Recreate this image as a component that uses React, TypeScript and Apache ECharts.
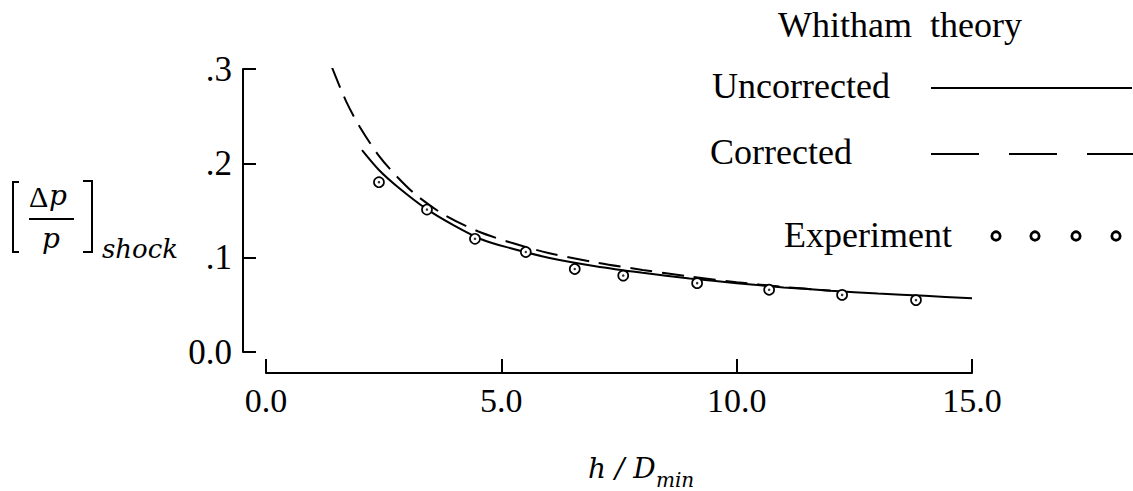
import React, { useEffect, useRef } from "react";
import * as echarts from "echarts";

// ---- data ----
const uncorrectedX = [2.04, 2.4, 2.8, 3.4, 4.0, 4.6, 5.2, 6.0, 7.0, 8.0, 9.0, 10.0, 11.0, 12.0, 13.0, 14.0, 15.0];
const uncorrectedY = [0.214, 0.193, 0.175, 0.152, 0.134, 0.119, 0.11, 0.1, 0.091, 0.084, 0.078, 0.073, 0.0685, 0.065, 0.062, 0.0595, 0.057];

const correctedX = [1.4, 1.7, 2.0, 2.4, 2.8, 3.2, 3.8, 4.5, 5.2, 6.0, 7.0, 8.0, 9.0, 10.0, 11.0, 12.0];
const correctedY = [0.302, 0.266, 0.238, 0.208, 0.185, 0.166, 0.145, 0.128, 0.116, 0.105, 0.095, 0.087, 0.08, 0.074, 0.069, 0.065];

const experimentX = [2.4, 3.42, 4.44, 5.52, 6.56, 7.59, 9.16, 10.69, 12.24, 13.81];
const experimentY = [0.18, 0.151, 0.12, 0.106, 0.088, 0.081, 0.073, 0.066, 0.0605, 0.055];

const xTicks = [0, 5, 10, 15];
const yTicks = [0, 0.1, 0.2, 0.3];

const legendTitle = "Whitham  theory";
const legendNames = ["Uncorrected", "Corrected", "Experiment"];

const zip = (xs: number[], ys: number[]) => xs.map((x, i) => [x, ys[i]]);

const SERIF = '"Liberation Serif", "Times New Roman", serif';
const ITAL = '"DejaVu Serif", serif';

export default function App() {
  const ref = useRef<HTMLDivElement>(null);
  useEffect(() => {
    if (!ref.current) return;
    const chart = echarts.init(ref.current, undefined, { renderer: "svg" });
    const legendFont = `36px ${SERIF}`;
    const option: any = {
      animation: false,
      backgroundColor: "#fff",
      grid: { left: 266, right: 161, top: 69, bottom: 139 },
      xAxis: {
        type: "value",
        min: xTicks[0],
        max: xTicks[xTicks.length - 1],
        interval: 5,
        offset: 21,
        splitLine: { show: false },
        axisLine: { show: true, onZero: false, lineStyle: { color: "#000", width: 2 } },
        axisTick: { show: true, inside: true, length: 14, lineStyle: { color: "#000", width: 2 } },
        axisLabel: {
          color: "#000",
          fontFamily: SERIF,
          fontSize: 34,
          margin: 10,
          formatter: (v: number) => v.toFixed(1),
        },
      },
      yAxis: {
        type: "value",
        min: yTicks[0],
        max: yTicks[yTicks.length - 1],
        interval: 0.1,
        offset: 23,
        splitLine: { show: false },
        axisLine: { show: true, onZero: false, lineStyle: { color: "#000", width: 2 } },
        axisTick: { show: true, inside: true, length: 13, lineStyle: { color: "#000", width: 2 } },
        axisLabel: {
          color: "#000",
          fontFamily: SERIF,
          fontSize: 35,
          margin: 11,
          padding: [20, 0, 0, 0],
          formatter: (v: number) => (v === 0 ? "0.0" : "." + Math.round(v * 10)),
        },
      },
      series: [
        {
          name: legendNames[0],
          type: "line",
          data: zip(uncorrectedX, uncorrectedY),
          showSymbol: false,
          smooth: 0.3,
          lineStyle: { color: "#000", width: 2 },
          z: 2,
        },
        {
          name: legendNames[1],
          type: "line",
          data: zip(correctedX, correctedY),
          showSymbol: false,
          smooth: 0.3,
          lineStyle: { color: "#000", width: 2, type: [22, 10] },
          z: 2,
        },
        {
          name: legendNames[2],
          type: "scatter",
          data: zip(experimentX, experimentY),
          symbol: "circle",
          symbolSize: 10,
          itemStyle: { color: "#fff", borderColor: "#000", borderWidth: 1.7, opacity: 1 },
          z: 3,
        },
        {
          name: "dots",
          type: "scatter",
          data: zip(experimentX, experimentY),
          symbol: "circle",
          symbolSize: 2.5,
          itemStyle: { color: "#000" },
          silent: true,
          z: 4,
        },
      ],
      graphic: [
        // legend
        { type: "text", x: 900, y: 25, style: { text: legendTitle, font: legendFont, fill: "#000", align: "center", verticalAlign: "middle" } },
        { type: "text", x: 712, y: 86, style: { text: legendNames[0], font: legendFont, fill: "#000", align: "left", verticalAlign: "middle" } },
        { type: "line", shape: { x1: 931, y1: 88, x2: 1132, y2: 88 }, style: { stroke: "#000", lineWidth: 2 } },
        { type: "text", x: 710, y: 152, style: { text: legendNames[1], font: legendFont, fill: "#000", align: "left", verticalAlign: "middle" } },
        { type: "line", shape: { x1: 931, y1: 154, x2: 1133, y2: 154 }, style: { stroke: "#000", lineWidth: 2, lineDash: [48, 30] } },
        { type: "text", x: 784, y: 235, style: { text: legendNames[2], font: legendFont, fill: "#000", align: "left", verticalAlign: "middle" } },
        ...[996, 1035, 1076, 1116].map((cx) => ({
          type: "circle",
          shape: { cx, cy: 236, r: 4.2 },
          style: { fill: "#fff", stroke: "#000", lineWidth: 2.8 },
        })),
        // y-axis title  [Δp / p]_shock
        { type: "polyline", shape: { points: [[19, 182], [13, 182], [13, 252], [19, 252]] }, style: { stroke: "#000", lineWidth: 2, fill: "none" } },
        { type: "polyline", shape: { points: [[83, 181], [92, 181], [92, 252], [83, 252]] }, style: { stroke: "#000", lineWidth: 2, fill: "none" } },
        { type: "text", x: 29, y: 196, style: { text: "Δ", font: `30px ${SERIF}`, fill: "#000", align: "left", verticalAlign: "middle" } },
        { type: "text", x: 49, y: 195, style: { text: "p", font: `italic 28px ${ITAL}`, fill: "#000", align: "left", verticalAlign: "middle" } },
        { type: "line", shape: { x1: 29, y1: 219, x2: 74, y2: 219 }, style: { stroke: "#000", lineWidth: 2 } },
        { type: "text", x: 51, y: 238, style: { text: "p", font: `italic 28px ${ITAL}`, fill: "#000", align: "center", verticalAlign: "middle" } },
        { type: "text", x: 102, y: 249, style: { text: "shock", font: `italic 26px ${ITAL}`, fill: "#000", align: "left", verticalAlign: "middle" } },
        // x-axis title  h / D_min
        { type: "text", x: 588, y: 468, style: { text: "h / D", font: `italic 28px ${ITAL}`, fill: "#000", align: "left", verticalAlign: "middle" } },
        { type: "text", x: 656, y: 480, style: { text: "min", font: `italic 20px ${ITAL}`, fill: "#000", align: "left", verticalAlign: "middle" } },
      ],
    };
    chart.setOption(option);
    return () => chart.dispose();
  }, []);
  return (
    <div
      ref={ref}
      style={{ position: "fixed", left: 0, top: 0, width: 1133, height: 491, background: "#fff" }}
    />
  );
}
